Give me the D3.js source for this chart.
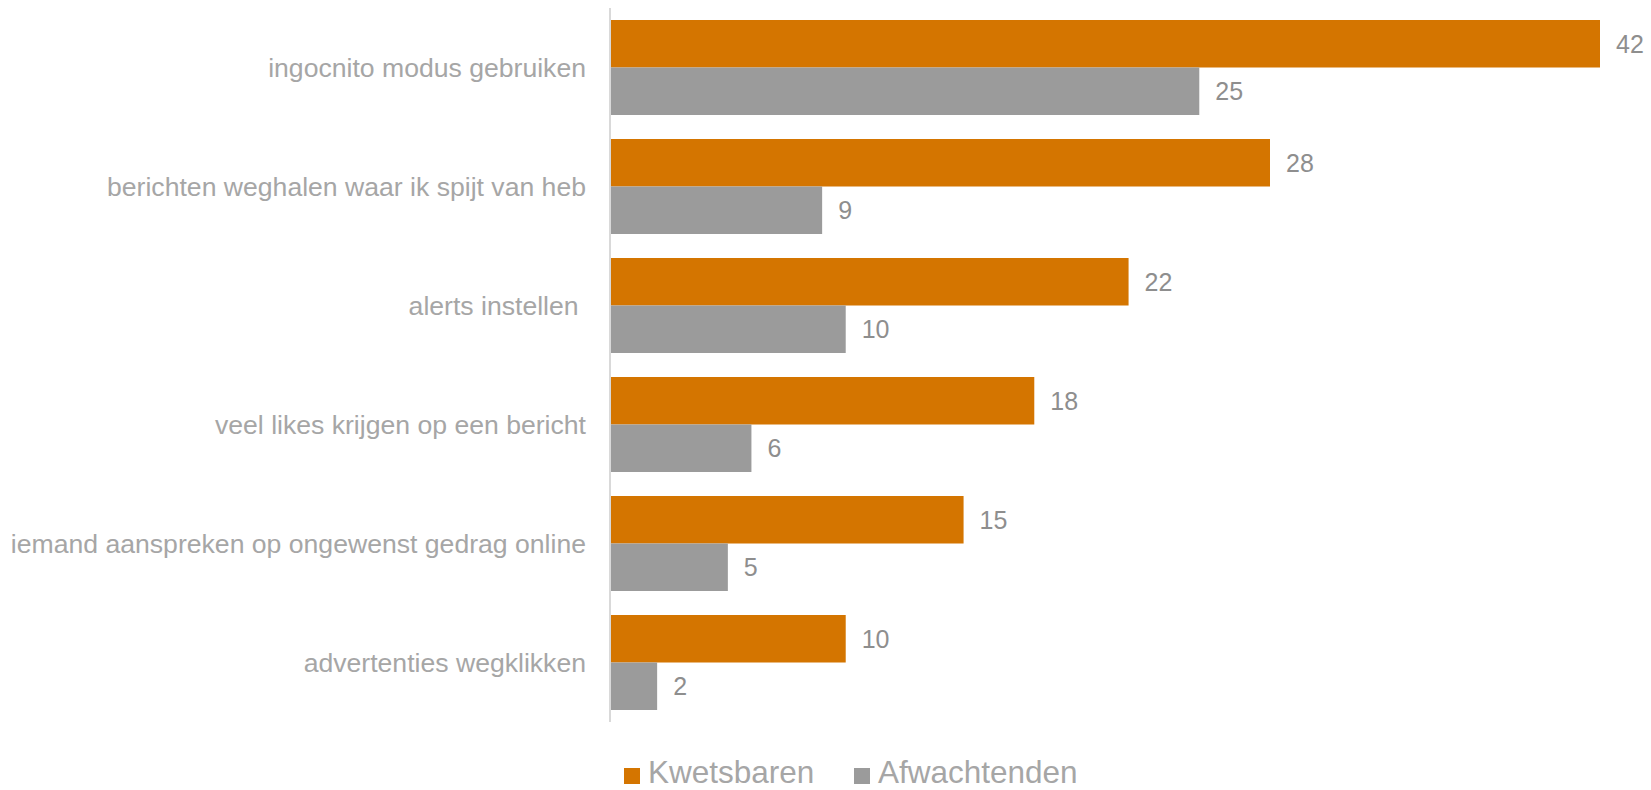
<!DOCTYPE html>
<html>
<head>
<meta charset="utf-8">
<script src="https://cdn.jsdelivr.net/npm/d3@7"></script>
<style>
  html, body { margin: 0; padding: 0; background: #ffffff; }
  svg { display: block; font-family: "Liberation Sans", Arial, sans-serif; }
  text { white-space: pre; }
</style>
</head>
<body>
<svg id="chart" width="1651" height="790"></svg>
<script>
// Categories, top to bottom
const categories = [
  "ingocnito modus gebruiken",
  "berichten weghalen waar ik spijt van heb",
  "alerts instellen ",
  "veel likes krijgen op een bericht",
  "iemand aanspreken op ongewenst gedrag online",
  "advertenties wegklikken"
];
const seriesNames = ["Kwetsbaren", "Afwachtenden"];
const kwetsbaren = [42, 28, 22, 18, 15, 10];
const afwachtenden = [25, 9, 10, 6, 5, 2];
const seriesColors = ["#D47500", "#9B9B9B"];

const svg = d3.select("#chart");
const plot = { left: 610, right: 1600, top: 8, bottom: 722 };

const x = d3.scaleLinear().domain([0, 42]).range([plot.left, plot.right]);
const y0 = d3.scaleBand().domain(categories).range([plot.top, plot.bottom])
  .paddingInner(24 / 119).paddingOuter(12 / 119);
const y1 = d3.scaleBand().domain(seriesNames).range([0, y0.bandwidth()]);

const rows = categories.map((c, i) => ({
  category: c,
  values: [
    { series: seriesNames[0], value: kwetsbaren[i], color: seriesColors[0] },
    { series: seriesNames[1], value: afwachtenden[i], color: seriesColors[1] }
  ]
}));

// Category axis labels
const yAxis = d3.axisLeft(y0).tickSize(0).tickPadding(24);
const gAxis = svg.append("g").attr("transform", `translate(${plot.left},0)`).call(yAxis);
gAxis.select(".domain").remove();
gAxis.selectAll("text")
  .attr("fill", "#A6A6A6")
  .style("font-size", "26.6px")
  .style("font-family", "'Liberation Sans', Arial, sans-serif")
  .attr("dy", "0.34em");

// Bars
const groups = svg.append("g").selectAll("g").data(rows).join("g")
  .attr("transform", d => `translate(0,${y0(d.category)})`);

groups.selectAll("rect").data(d => d.values).join("rect")
  .attr("x", x(0))
  .attr("y", d => y1(d.series))
  .attr("width", d => x(d.value) - x(0))
  .attr("height", y1.bandwidth())
  .attr("fill", d => d.color);

// Value labels
groups.selectAll("text.val").data(d => d.values).join("text")
  .attr("class", "val")
  .attr("x", d => x(d.value) + 16)
  .attr("y", d => y1(d.series) + y1.bandwidth() / 2)
  .attr("dy", "0.36em")
  .attr("fill", "#8E8E8E")
  .style("font-size", "25px")
  .text(d => d.value);

// Vertical axis line
svg.append("line")
  .attr("x1", plot.left).attr("x2", plot.left)
  .attr("y1", plot.top).attr("y2", plot.bottom)
  .attr("stroke", "#D9D9D9").attr("stroke-width", 2);

// Legend
const legendX = [624, 854];
const legend = svg.append("g").selectAll("g").data(seriesNames).join("g")
  .attr("transform", (d, i) => `translate(${legendX[i]},768)`);
legend.append("rect")
  .attr("width", 16).attr("height", 16)
  .attr("fill", (d, i) => seriesColors[i]);
legend.append("text")
  .attr("x", 24).attr("y", 15)
  .attr("fill", "#A6A6A6")
  .style("font-size", "31.5px")
  .text(d => d);
</script>
</body>
</html>
